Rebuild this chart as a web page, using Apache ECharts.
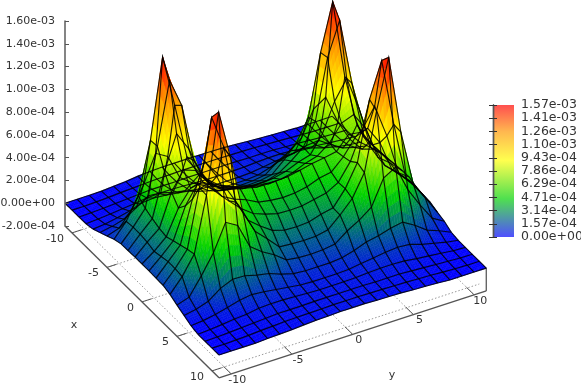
<!DOCTYPE html>
<html>
<head>
<meta charset="utf-8">
<style>html,body{margin:0;padding:0;background:#fff}#c{width:581px;height:384px;filter:blur(0.3px)}</style>
<script src="https://cdn.jsdelivr.net/npm/echarts@6/dist/echarts.min.js"></script>
</head>
<body>
<div id="c"></div>
<script>
// ---------- data (z values in units of 1e-6) ----------
const xValues = [-11,-10,-9,-8,-7,-6,-5,-4,-3,-2,-1,0,1,2,3,4,5,6,7,8,9,10,11];
const yValues = [-11,-10,-9,-8,-7,-6,-5,-4,-3,-2,-1,0,1,2,3,4,5,6,7,8,9,10,11];
const xm11 = [0,0,0,2,10,18,30,36,40,40,40,40,38,35,30,22,15,10,5,0,0,0,0];
const xm10 = [0,0,3,8,15,20,25,30,32,35,35,35,35,32,30,28,22,18,12,6,2,0,0];
const xm9  = [0,3,8,15,22,28,35,35,35,38,38,38,38,38,35,35,33,28,22,15,8,3,0];
const xm8  = [2,8,18,30,40,55,60,60,55,48,45,45,45,48,55,60,60,55,40,30,18,8,0];
const xm7  = [15,25,45,70,105,115,105,90,75,60,55,55,55,60,75,90,105,115,105,70,45,25,15];
const xm6  = [45,65,95,160,230,220,190,170,130,100,90,90,90,100,130,170,190,220,230,160,95,65,45];
const xm5  = [75,110,230,420,663,600,380,300,240,160,145,140,145,160,240,300,380,600,669,420,230,110,75];
const xm4  = [108,230,420,872,1570,1110,623,430,320,225,205,200,205,225,320,430,623,1157,1570,875,420,230,100];
const xm3  = [128,240,370,880,1424,1170,650,456,370,300,265,260,265,300,370,456,650,1174,1466,880,370,240,110];
const xm2  = [130,240,340,720,1017,850,600,450,420,375,350,345,350,375,420,450,600,850,1017,722,340,240,120];
const xm1  = [133,230,315,600,760,720,580,500,470,425,400,395,400,425,470,500,580,720,760,600,315,230,128];
const x0   = [133,210,303,520,660,680,565,545,530,505,485,480,485,505,530,545,565,680,665,520,303,210,133];
const x1   = [133,225,328,600,760,720,580,520,480,425,405,395,400,420,460,480,580,720,760,600,328,225,104];
const x2   = [130,240,351,720,1017,850,600,498,420,380,350,345,347,370,391,450,600,850,1017,720,351,240,95];
const x3   = [128,240,374,880,1463,1170,650,456,370,298,265,260,267,300,322,456,650,1170,1478,880,374,240,92];
const x4   = [108,230,393,875,1570,1130,623,420,320,213,205,200,202,225,320,430,623,1130,1565,875,393,230,67];
const x5   = [75,110,262,430,663,600,380,300,240,160,145,140,145,160,240,300,380,600,663,430,262,110,48];
const x6   = [45,65,100,178,224,220,190,170,130,100,90,90,90,100,130,170,190,220,240,178,100,60,12];
const x7   = [15,25,45,70,100,115,105,90,75,60,55,55,55,60,75,90,105,115,105,70,45,20,2];
const x8   = [0,8,18,30,38,55,60,60,55,48,45,45,45,48,55,60,60,55,40,30,18,6,0];
const x9   = [0,3,8,15,22,28,35,35,35,38,38,38,38,38,35,35,35,28,22,15,8,3,0];
const x10  = [0,0,3,8,15,20,25,28,30,32,35,35,35,32,30,28,25,20,15,8,3,0,0];
const x11  = [0,0,0,0,6,10,14,22,28,30,35,35,35,30,28,25,18,14,8,0,0,0,0];
const surfaceRows = [xm11,xm10,xm9,xm8,xm7,xm6,xm5,xm4,xm3,xm2,xm1,x0,x1,x2,x3,x4,x5,x6,x7,x8,x9,x10,x11];
const xTicks = [-10,-5,0,5,10];
const yTicks = [-10,-5,0,5,10];
const zRange = [-2e-4, 1.6e-3], zStep = 2e-4;
const cbRange = [0, 1.5715e-3], cbStep = 1.5715e-4;
const paletteStops = [0, 0.29, 0.58, 0.8, 1];
const paletteColors = [[0,0,255],[0,210,0],[255,255,0],[255,150,0],[255,0,0]];
const zUnit = 1e-6;

// ---------- 3D view: a parallel projection onto pixel axes ----------
const view = {cx:275.65, cy:258.45, xx:7, xy:6.9, yx:12.15, yy:-3.95, zs:205/1800, lo:-11, hi:11};
function project(x, y, zm) {
  return [view.cx + view.xx*x + view.yx*y, view.cy + view.xy*x + view.yy*y - (zm+200)*view.zs];
}
function colourAt(zm) {
  const t = Math.max(0, Math.min(1, zm*zUnit/cbRange[1]));
  let k = 0;
  while (k < paletteStops.length-2 && t > paletteStops[k+1]) k++;
  const f = (t-paletteStops[k])/(paletteStops[k+1]-paletteStops[k]);
  const a = paletteColors[k], b = paletteColors[k+1];
  return 'rgb(' + [0,1,2].map(n => Math.round(a[n]+(b[n]-a[n])*f)).join(',') + ')';
}
function sci(v) {
  if (Math.abs(v) < 1e-9) v = 0;
  return v.toExponential(2).replace(/e([+-])(\d)$/, (m,s,d) => 'e'+s+'0'+d);
}

const SUB = 5;
// cells in painter's order: far corner first
const cellOrder = [];
for (let i = 0; i < xValues.length-1; i++)
  for (let j = yValues.length-2; j >= 0; j--) cellOrder.push([i,j]);

function renderCell(params, api) {
  const i = api.value(0), j = api.value(1);
  const z00 = surfaceRows[i][j], z01 = surfaceRows[i][j+1], z10 = surfaceRows[i+1][j], z11 = surfaceRows[i+1][j+1];
  const children = [];
  const at = (u,v) => {
    const zm = (1-u)*(1-v)*z00 + (1-u)*v*z01 + u*(1-v)*z10 + u*v*z11;
    return {zm, p: api.coord(project(xValues[i]+u, yValues[j]+v, zm))};
  };
  for (let a = 0; a < SUB; a++) for (let b = SUB-1; b >= 0; b--) {
    const c00 = at(a/SUB,b/SUB), c01 = at(a/SUB,(b+1)/SUB), c10 = at((a+1)/SUB,b/SUB), c11 = at((a+1)/SUB,(b+1)/SUB);
    const col = colourAt((c00.zm+c01.zm+c10.zm+c11.zm)/4);
    children.push({type:'polygon', silent:true, shape:{points:[c00.p,c01.p,c11.p,c10.p]},
      style:{fill:col, stroke:col, lineWidth:0.5}});
  }
  return {type:'group', children};
}

function renderMesh(params, api) {
  const kind = api.value(0), k = api.value(1), pts = [];
  if (kind === 0) yValues.forEach((y,j) => pts.push(api.coord(project(xValues[k], y, surfaceRows[k][j]))));
  else xValues.forEach((x,i) => pts.push(api.coord(project(x, yValues[k], surfaceRows[i][k]))));
  return {type:'polyline', silent:true, shape:{points:pts}, style:{fill:null, stroke:'rgba(0,0,0,0.85)', lineWidth:1.15}};
}

function seg(api, a, b, stroke, lineWidth, dash) {
  const p = api.coord(a), q = api.coord(b);
  return {type:'line', silent:true, shape:{x1:p[0],y1:p[1],x2:q[0],y2:q[1]},
    style:{stroke, lineWidth, lineDash:dash||null}};
}
function renderFrame(params, api) {
  const L = view.lo, H = view.hi, base = -200, c = [];
  const grey = '#9a9a9a', dark = '#555';
  xTicks.forEach(x => {
    c.push(seg(api, project(x,L,base), project(x,H,base), grey, 1, [1.5,2]));
    c.push(seg(api, project(x,L,base), project(x,L+0.8,base), dark, 1));
  });
  yTicks.forEach(y => {
    c.push(seg(api, project(L,y,base), project(H,y,base), grey, 1, [1.5,2]));
    c.push(seg(api, project(H,y,base), project(H-1.1,y,base), dark, 1));
  });
  c.push(seg(api, project(L,L,base), project(H,L,base), dark, 1.4));
  c.push(seg(api, project(H,L,base), project(H,H,base), dark, 1.4));
  c.push(seg(api, project(H,H,base), project(H,H,0), '#666', 1.4));
  return {type:'group', children:c};
}
function renderLabels(params, api) {
  const L = view.lo, H = view.hi, base = -200, c = [];
  const txt = (s,p,dx,dy,align) => {
    const q = api.coord(p);
    c.push({type:'text', silent:true, style:{text:String(s), x:q[0]+dx, y:q[1]+dy, fill:'#333',
      font:'11px "DejaVu Sans"', textAlign:align, textVerticalAlign:'middle'}});
  };
  xTicks.forEach(x => txt(x, project(x,L,base), -8, 6, 'right'));
  yTicks.forEach(y => txt(y, project(H,y,base), 6, 6, 'center'));
  txt('x', project(0,L,base), -68, 23, 'center');
  txt('y', project(H,3,base), 3, 53, 'center');
  return {type:'group', children:c};
}
function renderBar(params, api) {
  const top = api.coord([0, cbRange[1]]), bottom = api.coord([1, cbRange[0]]);
  const stops = paletteStops.map((s,n) => ({offset:1-s, color:'rgb('+paletteColors[n].join(',')+')'}));
  return {type:'rect', silent:true, shape:{x:top[0], y:top[1], width:bottom[0]-top[0], height:bottom[1]-top[1]},
    style:{opacity:0.69, fill:new echarts.graphic.LinearGradient(0,0,0,1,stops.slice().reverse())}};
}

const chart = echarts.init(document.getElementById('c'), null, {renderer:'canvas'});
const labelFont = {fontFamily:'"DejaVu Sans"', color:'#333'};
chart.setOption({
  animation:false,
  backgroundColor:'#fff',
  textStyle:{fontFamily:'"DejaVu Sans"'},
  grid:[
    {left:0, top:0, width:581, height:384, outerBoundsMode:'none'},
    {left:65, top:21, width:10, height:205, outerBoundsMode:'none'},
    {left:493, top:105, width:21, height:132, outerBoundsMode:'none'}
  ],
  xAxis:[
    {gridIndex:0, type:'value', min:0, max:581, show:false},
    {gridIndex:1, type:'value', min:0, max:1, show:false},
    {gridIndex:2, type:'value', min:0, max:1, show:false}
  ],
  yAxis:[
    {gridIndex:0, type:'value', min:0, max:384, inverse:true, show:false},
    {gridIndex:1, type:'value', z:6, min:zRange[0], max:zRange[1], interval:zStep, position:'left',
      axisLine:{show:true, lineStyle:{color:'#666', width:1.6}},
      axisTick:{show:true, inside:true, length:4, lineStyle:{color:'#555', width:1}},
      splitLine:{show:false},
      axisLabel:Object.assign({fontSize:11, margin:10, formatter:sci}, labelFont)},
    {gridIndex:2, type:'value', z:6, min:cbRange[0], max:cbRange[1], interval:cbStep, position:'right',
      axisLine:{show:true, lineStyle:{color:'#555', width:1.4}},
      axisTick:{show:true, inside:true, length:4, lineStyle:{color:'#333', width:1}},
      splitLine:{show:false},
      axisLabel:Object.assign({fontSize:12.5, margin:7, formatter:sci}, labelFont)},
    {gridIndex:2, type:'value', z:6, min:cbRange[0], max:cbRange[1], interval:cbStep, position:'left',
      axisLine:{show:true, lineStyle:{color:'#555', width:1.4}},
      axisTick:{show:true, inside:true, length:4, lineStyle:{color:'#333', width:1}},
      splitLine:{show:false}, axisLabel:{show:false}}
  ],
  series:[
    {type:'custom', name:'frame', xAxisIndex:0, yAxisIndex:0, z:1, clip:false, silent:true, renderItem:renderFrame, data:[[0,0]]},
    {type:'custom', name:'surface', xAxisIndex:0, yAxisIndex:0, z:2, clip:false, silent:true, progressive:0, renderItem:renderCell, data:cellOrder},
    {type:'custom', name:'mesh', xAxisIndex:0, yAxisIndex:0, z:3, clip:false, silent:true, progressive:0, renderItem:renderMesh,
      data:xValues.map((v,i)=>[0,i]).concat(yValues.map((v,j)=>[1,j]))},
    {type:'custom', name:'labels', xAxisIndex:0, yAxisIndex:0, z:4, clip:false, silent:true, renderItem:renderLabels, data:[[0,0]]},
    {type:'custom', name:'colorbar', xAxisIndex:2, yAxisIndex:2, z:1, clip:false, silent:true, renderItem:renderBar, data:[[0,0]]}
  ]
});
</script>
</body>
</html>
